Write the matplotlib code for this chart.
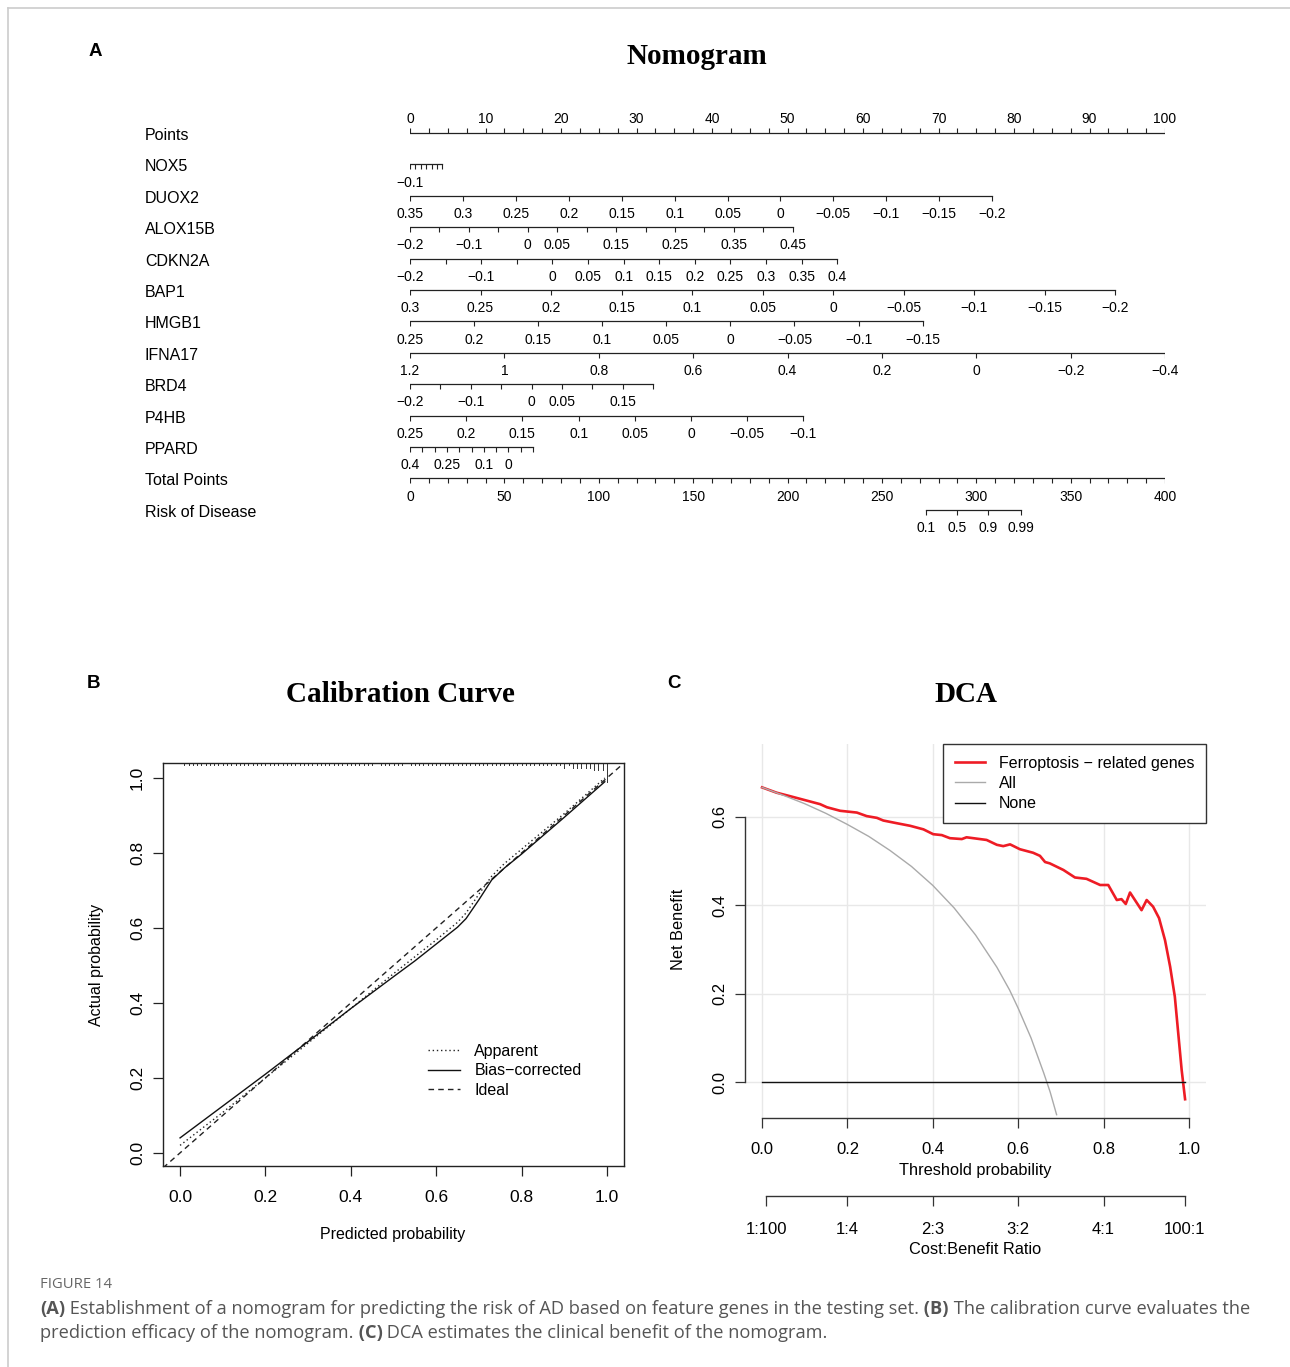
import matplotlib
matplotlib.use('Agg')
import matplotlib.pyplot as plt
import matplotlib.transforms as mtransforms
from matplotlib.lines import Line2D
import numpy as np

plt.rcParams['font.family'] = ['Liberation Sans', 'DejaVu Sans']

# ---------------- nomogram data ----------------
row_names = ['Points', 'NOX5', 'DUOX2', 'ALOX15B', 'CDKN2A', 'BAP1', 'HMGB1',
             'IFNA17', 'BRD4', 'P4HB', 'PPARD', 'Total Points', 'Risk of Disease']

# each gene: tick values, points of first / last tick, labels shown
nox5_vals = [-0.1, -0.09, -0.08, -0.07, -0.06, -0.05, -0.04]
nox5_pts = (0, 4.3)
nox5_lab = ['−0.1']

duox2_vals = [0.35, 0.3, 0.25, 0.2, 0.15, 0.1, 0.05, 0, -0.05, -0.1, -0.15, -0.2]
duox2_pts = (0, 77.1)
duox2_lab = ['0.35', '0.3', '0.25', '0.2', '0.15', '0.1', '0.05', '0', '−0.05', '−0.1', '−0.15', '−0.2']

alox15b_vals = [-0.2, -0.15, -0.1, -0.05, 0, 0.05, 0.1, 0.15, 0.2, 0.25, 0.3, 0.35, 0.4, 0.45]
alox15b_pts = (0, 50.7)
alox15b_lab = ['−0.2', '', '−0.1', '', '0', '0.05', '', '0.15', '', '0.25', '', '0.35', '', '0.45']

cdkn2a_vals = [-0.2, -0.15, -0.1, -0.05, 0, 0.05, 0.1, 0.15, 0.2, 0.25, 0.3, 0.35, 0.4]
cdkn2a_pts = (0, 56.6)
cdkn2a_lab = ['−0.2', '', '−0.1', '', '0', '0.05', '0.1', '0.15', '0.2', '0.25', '0.3', '0.35', '0.4']

bap1_vals = [0.3, 0.25, 0.2, 0.15, 0.1, 0.05, 0, -0.05, -0.1, -0.15, -0.2]
bap1_pts = (0, 93.4)
bap1_lab = ['0.3', '0.25', '0.2', '0.15', '0.1', '0.05', '0', '−0.05', '−0.1', '−0.15', '−0.2']

hmgb1_vals = [0.25, 0.2, 0.15, 0.1, 0.05, 0, -0.05, -0.1, -0.15]
hmgb1_pts = (0, 67.9)
hmgb1_lab = ['0.25', '0.2', '0.15', '0.1', '0.05', '0', '−0.05', '−0.1', '−0.15']

ifna17_vals = [1.2, 1.0, 0.8, 0.6, 0.4, 0.2, 0, -0.2, -0.4]
ifna17_pts = (0, 100)
ifna17_lab = ['1.2', '1', '0.8', '0.6', '0.4', '0.2', '0', '−0.2', '−0.4']

brd4_vals = [-0.2, -0.15, -0.1, -0.05, 0, 0.05, 0.1, 0.15, 0.2]
brd4_pts = (0, 32.2)
brd4_lab = ['−0.2', '', '−0.1', '', '0', '0.05', '', '0.15', '']

p4hb_vals = [0.25, 0.2, 0.15, 0.1, 0.05, 0, -0.05, -0.1]
p4hb_pts = (0, 52.1)
p4hb_lab = ['0.25', '0.2', '0.15', '0.1', '0.05', '0', '−0.05', '−0.1']

ppard_vals = [0.4, 0.35, 0.3, 0.25, 0.2, 0.15, 0.1, 0.05, 0, -0.05, -0.1]
ppard_pts = (0, 16.3)
ppard_lab = ['0.4', '', '', '0.25', '', '', '0.1', '', '0', '', '']

points_major = [0, 10, 20, 30, 40, 50, 60, 70, 80, 90, 100]
total_major = [0, 50, 100, 150, 200, 250, 300, 350, 400]
risk_vals = ['0.1', '0.5', '0.9', '0.99']
risk_total = [273.4, 289.8, 306.2, 323.9]

# ---------------- calibration data ----------------
cal_x = [0.0, 0.1, 0.2, 0.3, 0.4, 0.5, 0.55, 0.6, 0.62, 0.65, 0.67, 0.70, 0.73, 0.76, 0.8, 0.9, 0.95, 0.995]
bias_y = [0.04, 0.125, 0.21, 0.297, 0.385, 0.47, 0.512, 0.557, 0.575, 0.602, 0.625, 0.675, 0.728, 0.76, 0.797, 0.895, 0.945, 0.99]
app_y = [0.02, 0.108, 0.2, 0.293, 0.385, 0.478, 0.523, 0.568, 0.587, 0.615, 0.64, 0.69, 0.738, 0.772, 0.81, 0.905, 0.955, 1.0]
rug_counts = [1, 1, 1, 1, 1, 1, 1, 1, 1, 1, 1, 1, 1, 1, 1, 1, 1, 1, 1, 1,
              1, 1, 1, 1, 1, 1, 1, 1, 1, 1, 1, 1, 1, 1, 1, 1, 1, 1, 1, 1,
              1, 1, 1, 1, 1, 0, 1, 1, 1, 1, 1, 1, 0, 1, 1, 1, 1, 1, 1, 1,
              1, 1, 1, 1, 1, 1, 1, 1, 1, 1, 1, 1, 1, 1, 1, 1, 1, 1, 1, 1,
              1, 1, 1, 1, 1, 1, 1, 1, 1, 2, 1, 2, 2, 2, 2, 2, 3, 3, 3, 8]

# ---------------- DCA data ----------------
red_t = [0, 0.034, 0.066, 0.105, 0.136, 0.152, 0.183, 0.222, 0.245, 0.269, 0.284, 0.315,
         0.347, 0.378, 0.401, 0.421, 0.44, 0.468, 0.479, 0.526, 0.55, 0.565, 0.581, 0.604,
         0.635, 0.651, 0.663, 0.674, 0.706, 0.733, 0.76, 0.792, 0.811, 0.831, 0.842, 0.852,
         0.862, 0.889, 0.901, 0.916, 0.93, 0.944, 0.956, 0.967, 0.975, 0.983, 0.991]
red_nb = [0.667, 0.655, 0.647, 0.637, 0.629, 0.622, 0.614, 0.610, 0.602, 0.598, 0.592, 0.586,
          0.580, 0.572, 0.561, 0.559, 0.552, 0.550, 0.554, 0.548, 0.537, 0.534, 0.538, 0.527,
          0.519, 0.512, 0.498, 0.495, 0.480, 0.463, 0.460, 0.446, 0.446, 0.412, 0.414, 0.403,
          0.429, 0.389, 0.412, 0.397, 0.371, 0.321, 0.261, 0.193, 0.110, 0.027, -0.039]
all_t = [0, 0.05, 0.1, 0.15, 0.2, 0.25, 0.3, 0.35, 0.4, 0.45, 0.5, 0.55, 0.58, 0.6, 0.63, 0.66, 0.675, 0.69]
all_nb = [0.667, 0.649, 0.630, 0.608, 0.583, 0.556, 0.524, 0.488, 0.445, 0.394, 0.333, 0.260,
          0.208, 0.167, 0.100, 0.020, -0.023, -0.074]
none_t = [0, 0.99]
none_nb = [0, 0]
cb_labels = ['1:100', '1:4', '2:3', '3:2', '4:1', '100:1']

W, H = 1290, 1367
fig = plt.figure(figsize=(W / 100, H / 100), dpi=100)


def fx(px):
    return px / W


def fy(py):
    return 1 - py / H


# frame lines of the page
fig.add_artist(Line2D([fx(8), 1], [fy(8), fy(8)], color='#cccccc', lw=1.2))
fig.add_artist(Line2D([fx(8), fx(8)], [fy(8), 0], color='#cccccc', lw=1.2))

# ================= A: nomogram =================
fig.text(fx(95), fy(52), 'A', fontsize=13.5, fontweight='bold', ha='center', va='center')
fig.text(fx(697), fy(56), 'Nomogram', fontsize=21, fontweight='bold',
         family='Liberation Serif', ha='center', va='center')

row_h = 31.4
ax_n = fig.add_axes([fx(410), fy(540), fx(1165) - fx(410), (540 - 100) / H])
ax_n.set_xlim(0, 100)
ax_n.set_ylim((540 - 133) / row_h, (100 - 133) / row_h)
ax_n.axis('off')
lc = '#222222'
tl = 5 / row_h
lab_off = 0.58
tfs = 10
name_tr = mtransforms.blended_transform_factory(fig.transFigure, ax_n.transData)

for i, nm in enumerate(row_names):
    ax_n.text(fx(145), i + 0.08, nm, transform=name_tr, fontsize=11.5, va='center', ha='left')

# Points row
ax_n.plot([0, 100], [0, 0], color=lc, lw=0.9)
ax_n.vlines(np.arange(0, 100.1, 2.5), 0, -tl, color=lc, lw=0.8)
for v in points_major:
    ax_n.text(v, -0.45, str(v), ha='center', va='center', fontsize=tfs)

genes = [(nox5_vals, nox5_pts, nox5_lab), (duox2_vals, duox2_pts, duox2_lab),
         (alox15b_vals, alox15b_pts, alox15b_lab), (cdkn2a_vals, cdkn2a_pts, cdkn2a_lab),
         (bap1_vals, bap1_pts, bap1_lab), (hmgb1_vals, hmgb1_pts, hmgb1_lab),
         (ifna17_vals, ifna17_pts, ifna17_lab), (brd4_vals, brd4_pts, brd4_lab),
         (p4hb_vals, p4hb_pts, p4hb_lab), (ppard_vals, ppard_pts, ppard_lab)]

for k, (vals, pts, labs) in enumerate(genes):
    r = k + 1
    vals = np.array(vals, dtype=float)
    pos = pts[0] + (vals - vals[0]) / (vals[-1] - vals[0]) * (pts[1] - pts[0])
    ax_n.plot([pos.min(), pos.max()], [r, r], color=lc, lw=0.9)
    ax_n.vlines(pos, r, r + tl, color=lc, lw=0.8)
    for p, lab in zip(pos, labs):
        if lab:
            ax_n.text(p, r + lab_off, lab, ha='center', va='center', fontsize=tfs)

# Total points
r = 11
ax_n.plot([0, 100], [r, r], color=lc, lw=0.9)
ax_n.vlines(np.arange(0, 401, 10) / 4, r, r + tl, color=lc, lw=0.8)
for v in total_major:
    ax_n.text(v / 4, r + lab_off, str(v), ha='center', va='center', fontsize=tfs)

# Risk of disease
r = 12
rp = np.array(risk_total) / 4
ax_n.plot([rp[0], rp[-1]], [r, r], color=lc, lw=0.9)
ax_n.vlines(rp, r, r + tl, color=lc, lw=0.8)
for p, lab in zip(rp, risk_vals):
    ax_n.text(p, r + lab_off, lab, ha='center', va='center', fontsize=tfs)

# ================= B: calibration =================
fig.text(fx(93), fy(684), 'B', fontsize=13.5, fontweight='bold', ha='center', va='center')
fig.text(fx(400), fy(694), 'Calibration Curve', fontsize=21, fontweight='bold',
         family='Liberation Serif', ha='center', va='center')

ax_c = fig.add_axes([fx(163), fy(1166), (624 - 163) / W, (1166 - 763) / H])
ax_c.set_xlim(-0.04, 1.04)
ax_c.set_ylim(-0.035, 1.04)
ax_c.plot([-0.04, 1.04], [-0.04, 1.04], color='#222222', lw=1, ls=(0, (4, 3)), label='Ideal')
ax_c.plot(cal_x, app_y, color='#222222', lw=1, ls=(0, (1, 2)), label='Apparent')
ax_c.plot(cal_x, bias_y, color='#111111', lw=1, label='Bias−corrected')

rug_x = np.arange(1, 101) / 100
rug_tr = mtransforms.blended_transform_factory(ax_c.transData, ax_c.transAxes)
for xv, n in zip(rug_x, rug_counts):
    if n:
        ax_c.plot([xv, xv], [1, 1 - n * 2.4 / 403], transform=rug_tr, color='#333333', lw=0.7)

ax_c.set_xticks([0, 0.2, 0.4, 0.6, 0.8, 1.0])
ax_c.set_xticklabels(['0.0', '0.2', '0.4', '0.6', '0.8', '1.0'])
ax_c.set_yticks([0, 0.2, 0.4, 0.6, 0.8, 1.0])
ax_c.set_yticklabels(['0.0', '0.2', '0.4', '0.6', '0.8', '1.0'], rotation=90, va='center')
ax_c.tick_params(length=7, width=0.9, labelsize=12.5, color='#222222')
ax_c.tick_params(axis='x', pad=10.5)
ax_c.tick_params(axis='y', pad=6)
for s in ax_c.spines.values():
    s.set_linewidth(1)
    s.set_color('#222222')
ax_c.set_xlabel('Predicted probability', fontsize=11.5)
ax_c.set_ylabel('Actual probability', fontsize=11.5)
ax_c.xaxis.set_label_coords(0.499, (1166 - 1227) / 403)
ax_c.yaxis.set_label_coords((104 - 163) / 461, 0.5)
h, l = ax_c.get_legend_handles_labels()
ax_c.legend([h[1], h[2], h[0]], [l[1], l[2], l[0]], loc='upper left',
            bbox_to_anchor=((428 - 163) / 461, (1166 - 1044) / 403), frameon=False,
            fontsize=11.5, handlelength=2.0, handletextpad=0.9, labelspacing=0.28,
            borderpad=0, borderaxespad=0)

# ================= C: DCA =================
fig.text(fx(674), fy(684), 'C', fontsize=13.5, fontweight='bold', ha='center', va='center')
fig.text(fx(966), fy(694), 'DCA', fontsize=21, fontweight='bold',
         family='Liberation Serif', ha='center', va='center')

ax_d = fig.add_axes([fx(745), fy(1118), (1206 - 745) / W, (1118 - 744) / H])
ax_d.set_xlim(-0.04, 1.04)
ax_d.set_ylim((1082 - 1118) / 441.7, (1082 - 744) / 441.7)
for g in [0, 0.2, 0.4, 0.6, 0.8, 1.0]:
    ax_d.axvline(g, color='#e8e8e8', lw=1, zorder=0)
for g in [0, 0.2, 0.4, 0.6]:
    ax_d.axhline(g, color='#e8e8e8', lw=1, zorder=0)

ax_d.plot(red_t, red_nb, color='#ee1c25', lw=1.9, label='Ferroptosis − related genes')
ax_d.plot(all_t, all_nb, color='#aaaaaa', lw=1, label='All')
ax_d.plot(none_t, none_nb, color='#111111', lw=1, label='None')

for s in ['top', 'right']:
    ax_d.spines[s].set_visible(False)
ax_d.spines['left'].set_bounds(0, 0.6)
ax_d.spines['bottom'].set_bounds(0, 1.0)
for s in ['left', 'bottom']:
    ax_d.spines[s].set_linewidth(1)
    ax_d.spines[s].set_color('#333333')
ax_d.set_xticks([0, 0.2, 0.4, 0.6, 0.8, 1.0])
ax_d.set_xticklabels(['0.0', '0.2', '0.4', '0.6', '0.8', '1.0'])
ax_d.set_yticks([0, 0.2, 0.4, 0.6])
ax_d.set_yticklabels(['0.0', '0.2', '0.4', '0.6'], rotation=90, va='center')
ax_d.tick_params(length=7, width=0.9, labelsize=12, color='#333333')
ax_d.tick_params(axis='x', pad=10.5)
ax_d.tick_params(axis='y', pad=6)
ax_d.set_xlabel('Threshold probability', fontsize=11.8)
ax_d.set_ylabel('Net Benefit', fontsize=11.8)
ax_d.xaxis.set_label_coords(0.499, (1118 - 1163) / 374)
ax_d.yaxis.set_label_coords((686 - 745) / 461, 0.504)

cb_t = []
for lab in cb_labels:
    c, b = lab.split(':')
    cb_t.append(float(c) / (float(c) + float(b)))
sec = ax_d.secondary_xaxis((1118 - 1196) / 374)
sec.set_xticks(cb_t)
sec.set_xticklabels(cb_labels)
sec.spines['bottom'].set_bounds(cb_t[0], cb_t[-1])
sec.spines['bottom'].set_linewidth(1)
sec.spines['bottom'].set_color('#333333')
sec.tick_params(length=7, width=0.9, labelsize=12, pad=12, color='#333333')
sec.set_xlabel('Cost:Benefit Ratio', fontsize=11.8, labelpad=3)

leg = ax_d.legend(loc='upper right', bbox_to_anchor=(1.0, 1.0), fontsize=11.5,
                  handlelength=1.9, handletextpad=0.85, labelspacing=0.32,
                  fancybox=False, framealpha=1, edgecolor='#333333', borderpad=0.75,
                  borderaxespad=0)
leg.get_frame().set_linewidth(1)

# ================= caption =================
fig.text(fx(40), fy(1284), 'FIGURE 14', fontsize=10.7, color='#666666',
         family='Open Sans', va='center', ha='left')

cap_lines = [
    [('(A)', 'bold'),
     (' Establishment of a nomogram for predicting the risk of AD based on feature genes in the testing set.', 'normal'),
     (' (B)', 'bold'), (' The calibration curve evaluates the', 'normal')],
    [('prediction efficacy of the nomogram.', 'normal'), (' (C)', 'bold'),
     (' DCA estimates the clinical benefit of the nomogram.', 'normal')],
]
cap_y = [1309, 1333]
renderer = fig.canvas.get_renderer()
for pieces, yy in zip(cap_lines, cap_y):
    xpos = 40
    for txt, wt in pieces:
        t = fig.text(fx(xpos), fy(yy), txt, fontsize=13.15, color='#555555', family='Open Sans',
                     fontweight=wt, va='center', ha='left')
        xpos += t.get_window_extent(renderer).width

fig.savefig('out.png', dpi=100)
